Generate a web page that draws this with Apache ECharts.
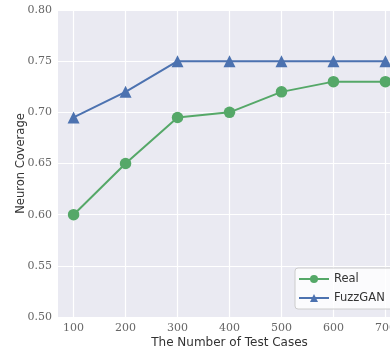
<!DOCTYPE html>
<html><head><meta charset="utf-8">
<script src="https://cdn.jsdelivr.net/npm/echarts@6/dist/echarts.min.js"></script>
<style>html,body{margin:0;padding:0;background:#fff}#c{width:390px;height:352px}</style>
</head><body><div id="c"></div>
<script>
const testCases = [100, 200, 300, 400, 500, 600, 700];
const realValues = [0.60, 0.65, 0.695, 0.70, 0.72, 0.73, 0.73];
const fuzzganValues = [0.695, 0.72, 0.75, 0.75, 0.75, 0.75, 0.75];
const yTicks = [0.50, 0.55, 0.60, 0.65, 0.70, 0.75, 0.80];

const chart = echarts.init(document.getElementById('c'));
const pair = (xs, ys) => xs.map((x, i) => [x, ys[i]]);
chart.setOption({
  animation: false,
  backgroundColor: '#ffffff',
  grid: { left: 58, top: 10, width: 343, height: 307, show: true, backgroundColor: '#EAEAF2', borderWidth: 0,
    outerBoundsMode: 'none', containLabel: false },
  xAxis: {
    type: 'value', min: 70, max: 730,
    name: 'The Number of Test Cases', nameLocation: 'middle', nameGap: 19.5, nameMoveOverlap: false,
    nameTextStyle: { fontFamily: 'DejaVu Sans', fontSize: 12, color: '#333' },
    axisLine: { show: false },
    axisTick: { show: false, customValues: testCases },
    axisLabel: { fontFamily: 'DejaVu Serif', fontSize: 11, color: '#666', margin: 6,
      customValues: testCases, formatter: v => String(v) },
    splitLine: { show: true, lineStyle: { color: '#ffffff', width: 1.2 } }
  },
  yAxis: {
    type: 'value', min: 0.50, max: 0.80, interval: 0.05,
    name: 'Neuron Coverage', nameLocation: 'middle', nameGap: 31, nameMoveOverlap: false,
    nameTextStyle: { fontFamily: 'DejaVu Sans', fontSize: 11.5, color: '#333' },
    axisLine: { show: false }, axisTick: { show: false },
    axisLabel: { fontFamily: 'DejaVu Serif', fontSize: 11, color: '#666', margin: 6,
      formatter: v => v.toFixed(2) },
    splitLine: { lineStyle: { color: '#ffffff', width: 1.2 } }
  },
  legend: {
    left: 295, top: 268, orient: 'vertical',
    backgroundColor: 'rgba(255,255,255,0.8)', borderColor: '#cccccc', borderWidth: 1, borderRadius: 3,
    padding: [5, 30, 5, 3], itemGap: 7, itemWidth: 30, itemHeight: 10,
    textStyle: { fontFamily: 'DejaVu Sans', fontSize: 11.5, color: '#333' },
    data: ['Real', 'FuzzGAN']
  },
  series: [
    { name: 'Real', type: 'line', data: pair(testCases, realValues),
      symbol: 'circle', symbolSize: 11.5,
      itemStyle: { color: '#55A868' }, lineStyle: { color: '#55A868', width: 2 } },
    { name: 'FuzzGAN', type: 'line', data: pair(testCases, fuzzganValues),
      symbol: 'triangle', symbolSize: 12,
      itemStyle: { color: '#4C72B0' }, lineStyle: { color: '#4C72B0', width: 2 } }
  ]
});
</script></body></html>
